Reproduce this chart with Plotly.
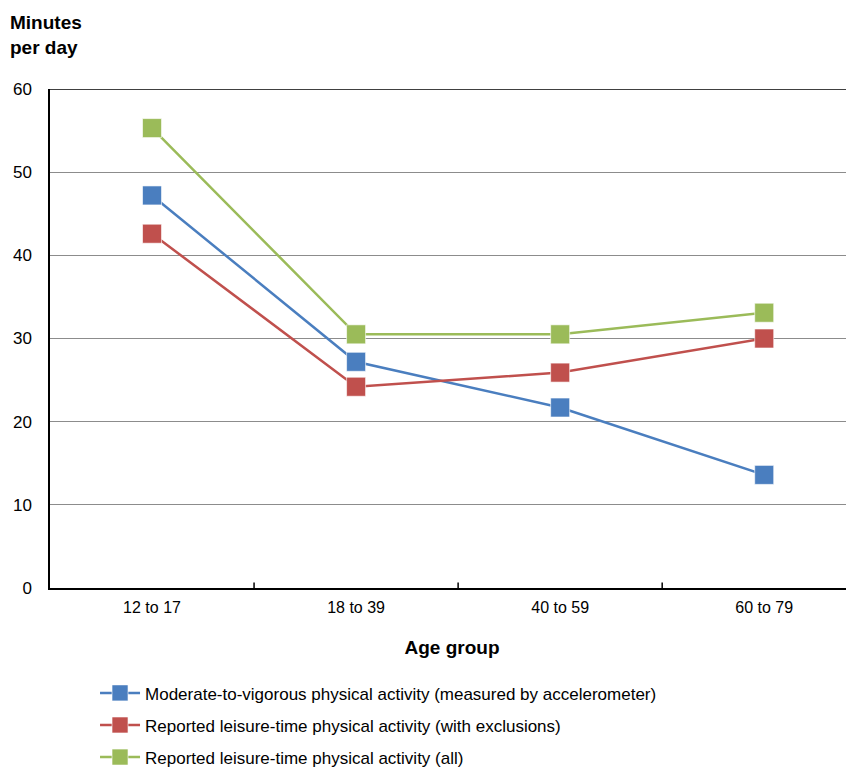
import plotly.graph_objects as go

categories = ["12 to 17", "18 to 39", "40 to 59", "60 to 79"]
mvpa = [47.2, 27.2, 21.7, 13.6]
leisure_excl = [42.6, 24.2, 25.9, 30.0]
leisure_all = [55.3, 30.5, 30.5, 33.1]

series = [
    ("Moderate-to-vigorous physical activity (measured by accelerometer)", mvpa, "#4a7ebf"),
    ("Reported leisure-time physical activity (with exclusions)", leisure_excl, "#c0504d"),
    ("Reported leisure-time physical activity (all)", leisure_all, "#9bbb59"),
]

FONT = "Liberation Sans Narrow, Arial Narrow, Liberation Sans, Arial"

fig = go.Figure()
for i, (name, vals, col) in enumerate(series):
    fig.add_trace(go.Scatter(
        x=[0, 1, 2, 3], y=vals, name=name, mode="lines+markers", legendgroup=f"g{i}",
        line=dict(color=col, width=2.5),
        marker=dict(symbol="square", size=19, color=col, line=dict(color="rgba(255,255,255,0.6)", width=1)),
    ))

# page body has an 8px default margin; size the figure to fit the visible window
fig.update_layout(
    width=846, height=762,
    margin=dict(l=42, r=0, t=81, b=182, autoexpand=False),
    paper_bgcolor="white", plot_bgcolor="white",
    font=dict(family=FONT, size=16, color="#000"),
    showlegend=True,
    legend=dict(x=0.056, y=-0.175, xanchor="left", yanchor="top",
                font=dict(family=FONT, size=17), tracegroupgap=7,
                itemwidth=40, bgcolor="rgba(0,0,0,0)"),
    xaxis=dict(
        range=[-0.5, 3.44], tickmode="array", tickvals=[0, 1, 2, 3], ticktext=categories,
        showgrid=False, zeroline=False, showline=True, linecolor="#000", linewidth=1.5,
        ticks="", tickfont=dict(size=16, family=FONT), ticklabelstandoff=4, automargin=False,
        title=dict(text="<b>Age group</b>", font=dict(family="Liberation Sans, Arial", size=19), standoff=26),
        fixedrange=True,
    ),
    yaxis=dict(
        range=[0, 60], tickvals=[0, 10, 20, 30, 40, 50, 60],
        showgrid=True, gridcolor="#8c8c8c", gridwidth=1, zeroline=False,
        showline=True, linecolor="#000", linewidth=1.5, automargin=False,
        ticks="", ticklabelstandoff=13, tickfont=dict(size=17, family=FONT),
    ),
    annotations=[dict(
        text="<b>Minutes<br>per day</b>", xref="paper", yref="paper", x=-0.052, y=1.158,
        xanchor="left", yanchor="top", showarrow=False, align="left",
        font=dict(family="Liberation Sans, Arial", size=19),
    )],
    shapes=[
        dict(type="line", xref="paper", yref="y", x0=0, x1=1, y0=60, y1=60, line=dict(color="#000", width=1.5)),
    ] + [
        dict(type="line", xref="x", yref="paper", x0=b, x1=b, y0=0, y1=0.011, line=dict(color="#000", width=1.5))
        for b in [0.5, 1.5, 2.5]
    ],
)

fig.write_html("out.html")
